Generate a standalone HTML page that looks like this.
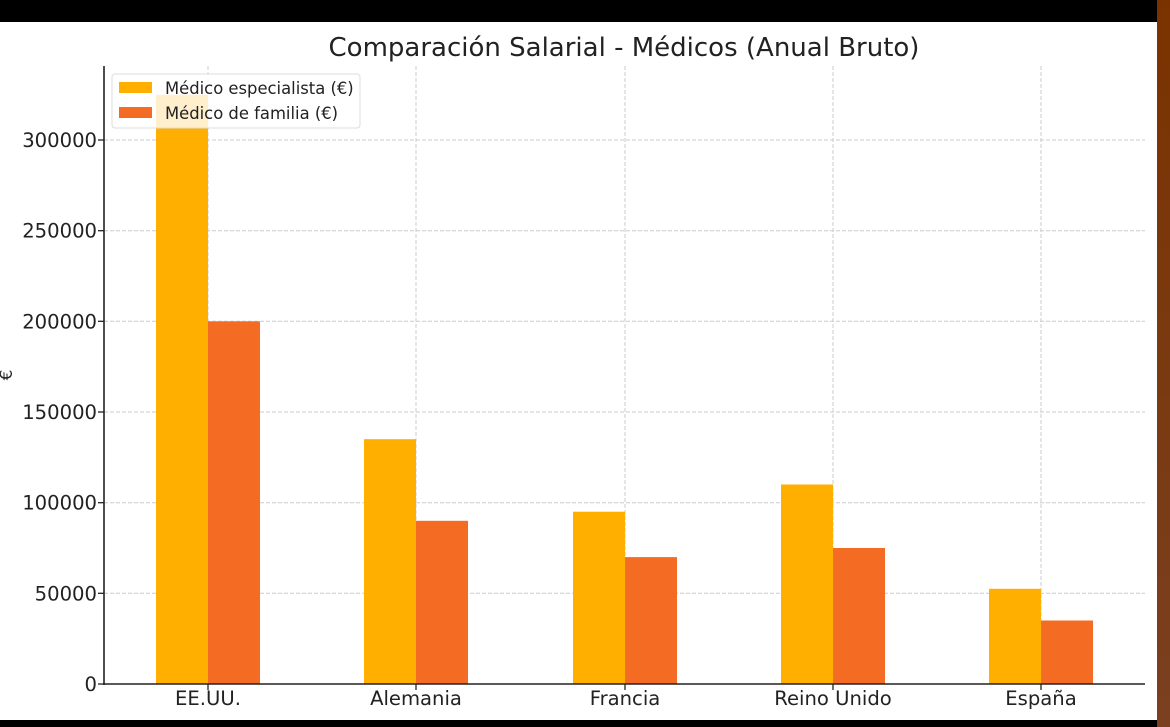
<!DOCTYPE html>
<html><head><meta charset="utf-8"><style>
html,body{margin:0;padding:0;background:#fff}
svg{display:block}
text{font-family:"DejaVu Sans","Liberation Sans",sans-serif;fill:#222}
</style></head><body>
<svg width="1170" height="727" viewBox="0 0 1170 727" xmlns="http://www.w3.org/2000/svg">
<defs><linearGradient id="br" x1="0" y1="0" x2="0" y2="1"><stop offset="0" stop-color="#7a3300"/><stop offset="1" stop-color="#7a4020"/></linearGradient></defs>
<rect x="0" y="0" width="1170" height="727" fill="#fff"/>
<rect x="0" y="0" width="1157" height="22" fill="#000"/>
<rect x="0" y="720" width="1157" height="7" fill="#000"/>
<rect x="1157" y="0" width="13" height="727" fill="url(#br)"/>
<text x="624" y="56" font-size="26" text-anchor="middle" fill="#333">Comparación Salarial - Médicos (Anual Bruto)</text>
<g stroke="#ccc" stroke-width="1" stroke-dasharray="4,2">
<line x1="104" x2="1145" y1="140" y2="140"/><line x1="104" x2="1145" y1="230.7" y2="230.7"/>
<line x1="104" x2="1145" y1="321.3" y2="321.3"/><line x1="104" x2="1145" y1="412" y2="412"/>
<line x1="104" x2="1145" y1="502.7" y2="502.7"/><line x1="104" x2="1145" y1="593.3" y2="593.3"/>
<line x1="208" x2="208" y1="66" y2="684"/><line x1="416" x2="416" y1="66" y2="684"/>
<line x1="625" x2="625" y1="66" y2="684"/><line x1="833" x2="833" y1="66" y2="684"/>
<line x1="1041" x2="1041" y1="66" y2="684"/>
</g>
<g fill="#ffaf00">
<rect x="156" y="94.7" width="52" height="589.3"/>
<rect x="364" y="439.2" width="52" height="244.8"/>
<rect x="573" y="511.7" width="52" height="172.3"/>
<rect x="781" y="484.5" width="52" height="199.5"/>
<rect x="989" y="588.8" width="52" height="95.2"/>
</g>
<g fill="#f46b23">
<rect x="208" y="321.3" width="52" height="362.7"/>
<rect x="416" y="520.8" width="52" height="163.2"/>
<rect x="625" y="557.1" width="52" height="126.9"/>
<rect x="833" y="548" width="52" height="136"/>
<rect x="1041" y="620.5" width="52" height="63.5"/>
</g>
<line x1="104" x2="104" y1="66" y2="685" stroke="#222" stroke-width="1.6"/>
<line x1="103" x2="1145" y1="684" y2="684" stroke="#222" stroke-width="1.6"/>
<g stroke="#222" stroke-width="1.3">
<line x1="98" x2="104" y1="140" y2="140"/><line x1="98" x2="104" y1="230.7" y2="230.7"/>
<line x1="98" x2="104" y1="321.3" y2="321.3"/><line x1="98" x2="104" y1="412" y2="412"/>
<line x1="98" x2="104" y1="502.7" y2="502.7"/><line x1="98" x2="104" y1="593.3" y2="593.3"/>
<line x1="98" x2="104" y1="684" y2="684"/>
<line x1="208" x2="208" y1="684" y2="690"/><line x1="416" x2="416" y1="684" y2="690"/>
<line x1="625" x2="625" y1="684" y2="690"/><line x1="833" x2="833" y1="684" y2="690"/>
<line x1="1041" x2="1041" y1="684" y2="690"/>
</g>
<g font-size="19.6" text-anchor="end">
<text x="97" y="147">300000</text><text x="97" y="237.7">250000</text>
<text x="97" y="328.3">200000</text><text x="97" y="419">150000</text>
<text x="97" y="509.7">100000</text><text x="97" y="600.3">50000</text>
<text x="97" y="691">0</text>
</g>
<g font-size="19.6" text-anchor="middle">
<text x="208" y="705">EE.UU.</text><text x="416" y="705">Alemania</text>
<text x="625" y="705">Francia</text><text x="833" y="705">Reino Unido</text>
<text x="1041" y="705">España</text>
</g>
<text transform="translate(12,375) rotate(-90)" font-size="17" text-anchor="middle">€</text>
<rect x="112" y="74" width="248" height="54" rx="3" fill="#fff" fill-opacity="0.8" stroke="#ddd"/>
<rect x="119" y="82" width="33" height="11" fill="#ffaf00"/>
<rect x="119" y="107" width="33" height="11" fill="#f46b23"/>
<text x="165" y="94" font-size="16.4" fill="#333">Médico especialista (€)</text>
<text x="165" y="119" font-size="16.4" fill="#333">Médico de familia (€)</text>
</svg>
</body></html>
